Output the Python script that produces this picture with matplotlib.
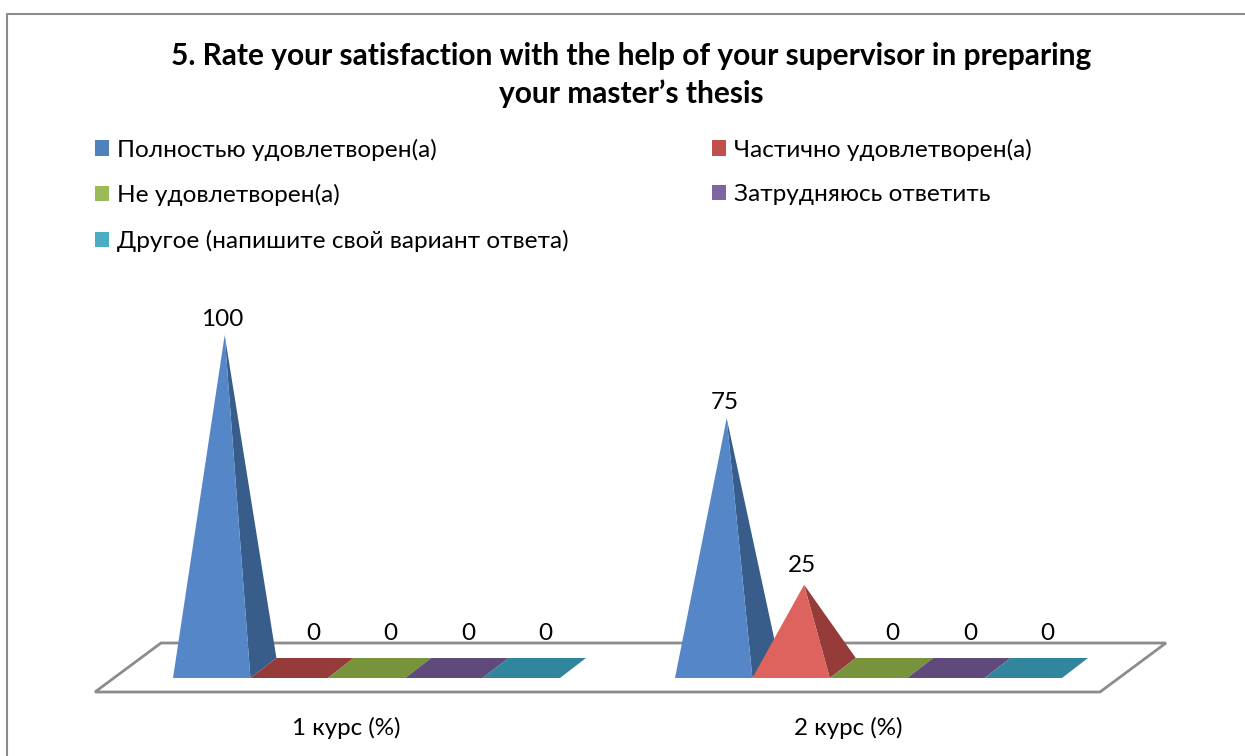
import matplotlib
matplotlib.use('Agg')
import matplotlib.pyplot as plt
from matplotlib.patches import Polygon, Patch
from matplotlib.lines import Line2D

title = "5. Rate your satisfaction with the help of your supervisor in preparing\nyour master\u2019s thesis"
categories = ['1 курс (%)', '2 курс (%)']
series = ['Полностью удовлетворен(а)', 'Частично удовлетворен(а)', 'Не удовлетворен(а)',
          'Затрудняюсь ответить', 'Другое (напишите свой вариант ответа)']
course1 = [100, 0, 0, 0, 0]
course2 = [75, 25, 0, 0, 0]
legend_colors = ['#4F81BD', '#C0504D', '#9BBB59', '#8064A2', '#4BACC6']
front_colors = ['#5586C8', '#DE625E', '#9BBB59', '#8064A2', '#4BACC6']
side_colors = ['#385D8A', '#953B39', '#77933C', '#604A7B', '#31859C']

plt.rcParams['font.family'] = ['Lato', 'Noto Sans', 'DejaVu Sans']

W, H = 1245, 756
fig = plt.figure(figsize=(W / 100, H / 100), dpi=100, facecolor='white')

# pixel frame of the floor, axis units: one pyramid = 1 in x, percent in y
slot = 77.4
px_per_pct = 3.33
group_step = 502 / slot
dx = 26 / slot
dy = 10 / px_per_pct
left_px, right_px = 95, 1166
top_px, bottom_px = 300, 692
zero_px = 668

ax = fig.add_axes([left_px / W, 1 - bottom_px / H, (right_px - left_px) / W, (bottom_px - top_px) / H])
ax.set_xlim((left_px - 173) / slot, (right_px - 173) / slot)
ax.set_ylim((zero_px - bottom_px) / px_per_pct, (zero_px - top_px) / px_per_pct)
ax.patch.set_visible(False)
for s in ax.spines.values():
    s.set_visible(False)
ax.set_yticks([])

x_lo, x_hi = ax.get_xlim()
y_lo = ax.get_ylim()[0]
floor_back = (zero_px - 643) / px_per_pct
floor_skew = 66 / slot
ax.add_patch(Polygon([(x_lo, y_lo), (x_hi - floor_skew, y_lo), (x_hi, floor_back), (x_lo + floor_skew, floor_back)],
                     closed=True, facecolor='white', edgecolor='#8C8C8C', lw=2, clip_on=False, zorder=1))

z = 2
for g, values in enumerate([course1, course2]):
    start = g * group_step
    for i, v in enumerate(values):
        x0 = start + i
        x1 = x0 + 1
        if v == 0:
            ax.add_patch(Polygon([(x0, -dy), (x1, -dy), (x1 + dx, dy), (x0 + dx, dy)], closed=True,
                                 facecolor=side_colors[i], edgecolor='none', zorder=z))
            off = (11, 34)
        else:
            apex = (x0 + 0.5 + dx / 2, v)
            ax.add_patch(Polygon([(x1, -dy), (x1 + dx, dy), apex], closed=True,
                                 facecolor=side_colors[i], edgecolor='none', zorder=z))
            ax.add_patch(Polygon([(x0, -dy), (x1, -dy), apex], closed=True,
                                 facecolor=front_colors[i], edgecolor='none', zorder=z))
            off = (-2, 16 if v > 25 else 19)
        z += 1
        ax.annotate(str(v), (x0 + 0.5 + dx / 2, v), xytext=(off[0] * 0.72, off[1] * 0.72), textcoords='offset points',
                    ha='center', va='center', fontsize=17.5, color='black', zorder=20)

ax.set_xticks([g * group_step + 2.24 for g in range(len(categories))])
ax.set_xticklabels(categories, fontsize=17.4, color='black')
ax.tick_params(axis='x', length=0, pad=18)

fig.text(631 / W, 1 - 75 / H, title, ha='center', va='center', fontsize=21.5, fontweight='bold',
         color='black', linespacing=1.42)

handles = [Patch(facecolor=c, edgecolor='none') for c in legend_colors]
order = [0, 2, 4, 1, 3]
fig.legend([handles[i] for i in order], [series[i] for i in order], ncol=2, frameon=False,
           loc='upper left', bbox_to_anchor=(95 / W, 1 - 138.5 / H), borderaxespad=0, borderpad=0,
           fontsize=17.55, handlelength=0.58, handleheight=0.58, handletextpad=0.33,
           labelspacing=0.965, columnspacing=5.86, labelcolor='black')

# chart area border, only top and left are inside the picture
fig.add_artist(Line2D([7 / W, 7 / W, 1], [0, 1 - 14 / H, 1 - 14 / H], transform=fig.transFigure,
                      color='#8C8C8C', lw=1.5))

fig.savefig('out.png', dpi=100, facecolor='white')
